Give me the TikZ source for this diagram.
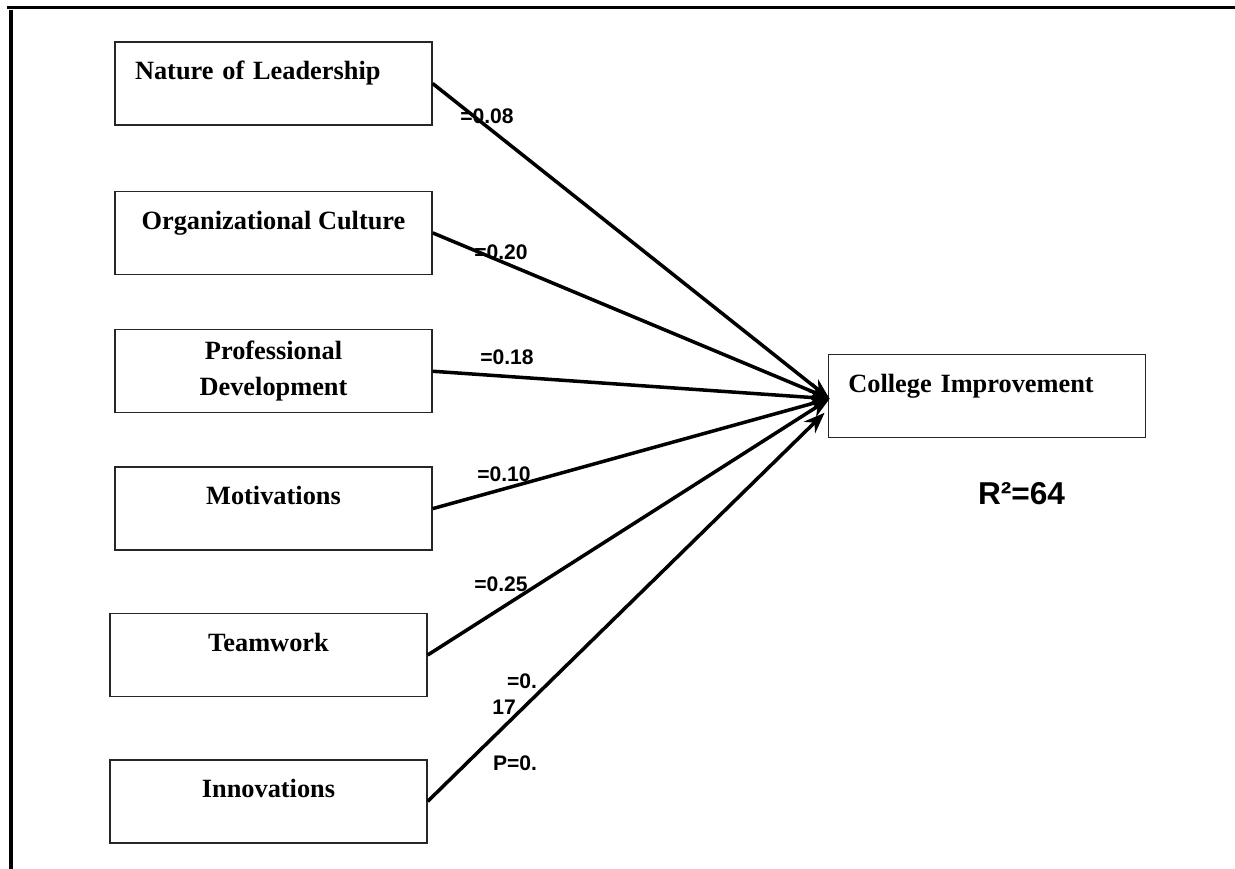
\documentclass[tikz,border=0pt]{standalone}
\usepackage{fontspec}
\setmainfont{Liberation Serif}
\newfontfamily\arialfont{Liberation Sans}
\usetikzlibrary{positioning, arrows.meta, calc}

\begin{document}
\begin{tikzpicture}[
        x=0.02cm, y=-0.02cm,
        node distance=1.2cm,
        box/.style={draw=black!85, line width=0.8pt, rectangle, minimum width=6.34cm, minimum height=1.66cm, inner sep=0pt, font=\fontsize{15}{20.5}\selectfont\bfseries},
        raised/.style={text height=0.4cm, text depth=0.55cm},
        lbox/.style={box, text width=5.54cm, align=left, inner xsep=0.4cm},
        arrow/.style={-{Stealth[length=0.42cm, width=0.32cm]}, line width=2pt},
        coef/.style={font=\fontsize{12}{14}\selectfont\bfseries\arialfont, inner sep=0pt}
    ]
    \useasboundingbox (0,0) rectangle (1235,869);

    % Frame
    \draw[line width=1.7pt] (7,7.5) -- (1235,7.5);
    \draw[line width=2.3pt] (11,10) -- (11,869);

    % Predictors
    \node[lbox, raised] (lead) at (273.5,83.5) {Nature of Leadership};
    \node[box, raised, below=1.3cm of lead] (cult) {Organizational Culture};
    \node[box, align=center, below=1.08cm of cult] (prof) {Professional\\Development};
    \node[box, raised, below=1.06cm of prof] (motiv) {Motivations};
    \node[box, raised, below=1.24cm of motiv, xshift=-0.1cm] (team) {Teamwork};
    \node[box, raised, below=1.24cm of team] (innov) {Innovations};

    % Outcome
    \node[lbox, raised, right=7.9cm of prof, yshift=-0.5cm] (college) {College Improvement};
    \node[font=\fontsize{18}{22}\selectfont\bfseries\arialfont, inner sep=0pt] (rsq) at (1021.5,493.5) {R²=64};

    % Arrows
    \coordinate (hit) at ([xshift=0.04cm, yshift=-0.05cm]college.west);
    \coordinate (hitlow) at ([xshift=-0.06cm, yshift=-0.33cm]college.west);
    \foreach \src in {lead, cult, prof, motiv, team}
        \draw[arrow] (\src.east) -- (hit);
    \draw[arrow] (innov.east) -- (hitlow);

    % Coefficients
    \node[coef] (b1) at (487,116) {=0.08};
    \node[coef] (b2) at (501,252) {=0.20};
    \node[coef] (b3) at (507,357) {=0.18};
    \node[coef] (b4) at (504,474) {=0.10};
    \node[coef] (b5) at (501,584) {=0.25};
    \node[coef] (b6) at (522,681) {=0.};
    \node[coef] (b6n) at (504,707) {17};
    \node[coef] (p6) at (515,763) {P=0.};
\end{tikzpicture}
\end{document}
